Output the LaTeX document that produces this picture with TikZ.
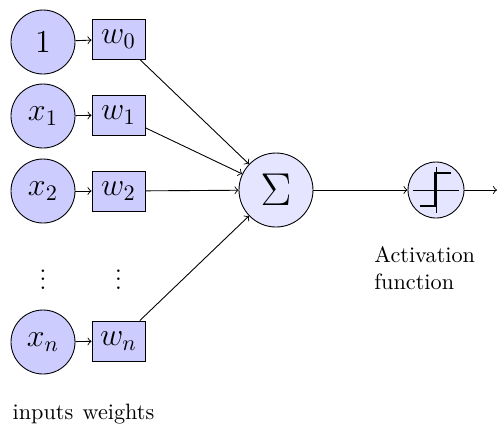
\documentclass[tikz,border=0pt]{standalone}
\begin{document}
\begin{tikzpicture}[x=0.45pt,y=-0.45pt,
  inp/.style={circle,draw,fill=blue!20,minimum size=28.8pt,inner sep=0pt,font=\fontsize{13.6}{16}\selectfont},
  wbox/.style={rectangle,draw,fill=blue!20,minimum width=23.85pt,minimum height=18pt,inner sep=0pt,font=\fontsize{13.6}{16}\selectfont},
  sumnode/.style={circle,draw,fill=blue!10,minimum size=33.3pt,inner sep=0pt,font=\huge},
  actnode/.style={circle,draw,fill=blue!10,minimum size=25.2pt,inner sep=0pt},
  conn/.style={->},
  lbl/.style={inner sep=0pt}]
\useasboundingbox (0,0) rectangle (499,430);
% inputs
\node[inp] (x0) at (43,42) {$1$};
\node[inp] (x1) at (43,116) {$x_1$};
\node[inp] (x2) at (43,191) {$x_2$};
\node[inp] (xn) at (43,342) {$x_n$};
% weights
\node[wbox] (w0) at (118.5,39) {$w_0$};
\node[wbox] (w1) at (118.5,115) {$w_1$};
\node[wbox] (w2) at (118.5,191) {$w_2$};
\node[wbox] (wn) at (118.5,341) {$w_n$};
% dots
\node[lbl,font=\large] (d1) at (43,273) {$\vdots$};
\node[lbl,font=\large] (d2) at (118.5,273) {$\vdots$};
% sum and activation
\node[sumnode] (sigma) at (276,190) {$\Sigma$};
\node[actnode] (act) at (436,190) {};
\coordinate (out) at (497,190);
% step function drawing
\draw (413,190) -- (459,190);
\draw (436,167) -- (436,213);
\draw[line width=1.1pt] (420,206) -- (435,206) -- (435,173) -- (451,173);
% connectors
\draw[conn] (x0) -- (w0);
\draw[conn] (x1) -- (w1);
\draw[conn] (x2) -- (w2);
\draw[conn] (xn) -- (wn);
\draw[conn] (w0) -- (sigma);
\draw[conn] (w1) -- (sigma);
\draw[conn] (w2) -- (sigma);
\draw[conn] (wn) -- (sigma);
\draw[conn] (sigma) -- (act);
\draw[conn] (act) -- (out);
% labels
\node[lbl,align=left,anchor=north west] (actlbl) at (374,246) {Activation\\function};
\node[lbl,anchor=base] (inlbl) at (43,419) {inputs};
\node[lbl,anchor=base] (wlbl) at (118.5,419) {weights};
\end{tikzpicture}
\end{document}
